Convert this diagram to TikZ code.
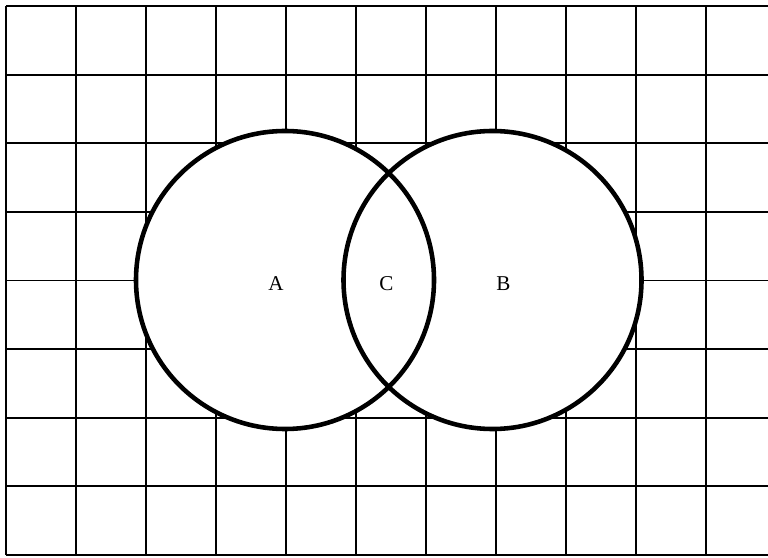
\documentclass[tikz,border=0pt]{standalone}
\usepackage{fontspec}
\setmainfont{Liberation Serif}
\usetikzlibrary{positioning}

\begin{document}
\begin{tikzpicture}[
  gridline/.style={line width=1.1pt},
  ring/.style={line width=2.6pt},
  lbl/.style={font=\fontsize{12}{14}\selectfont,inner sep=1pt}
]
  \useasboundingbox (0,0) rectangle (15.36,11.14);
  % squared background
  \foreach \i in {0,...,10}
    \draw[gridline] (0.12+1.4*\i,0.04) -- (0.12+1.4*\i,11.02);
  \foreach \j in {0,...,8}
    \draw[gridline] (0.12,11.02-1.3725*\j) -- (15.36,11.02-1.3725*\j);
  % the two sets
  \coordinate (cA) at (5.70,5.54);
  \coordinate (cB) at (9.85,5.54);
  \fill[white] (cA) circle (2.98);
  \fill[white] (cB) circle (2.98);
  \draw[ring] (cA) circle (2.98);
  \draw[ring] (cB) circle (2.98);
  \node[lbl] (a) at (5.52,5.46) {A};
  \node[lbl] (c) at (7.73,5.46) {C};
  \node[lbl] (b) at (10.07,5.46) {B};
\end{tikzpicture}
\end{document}
